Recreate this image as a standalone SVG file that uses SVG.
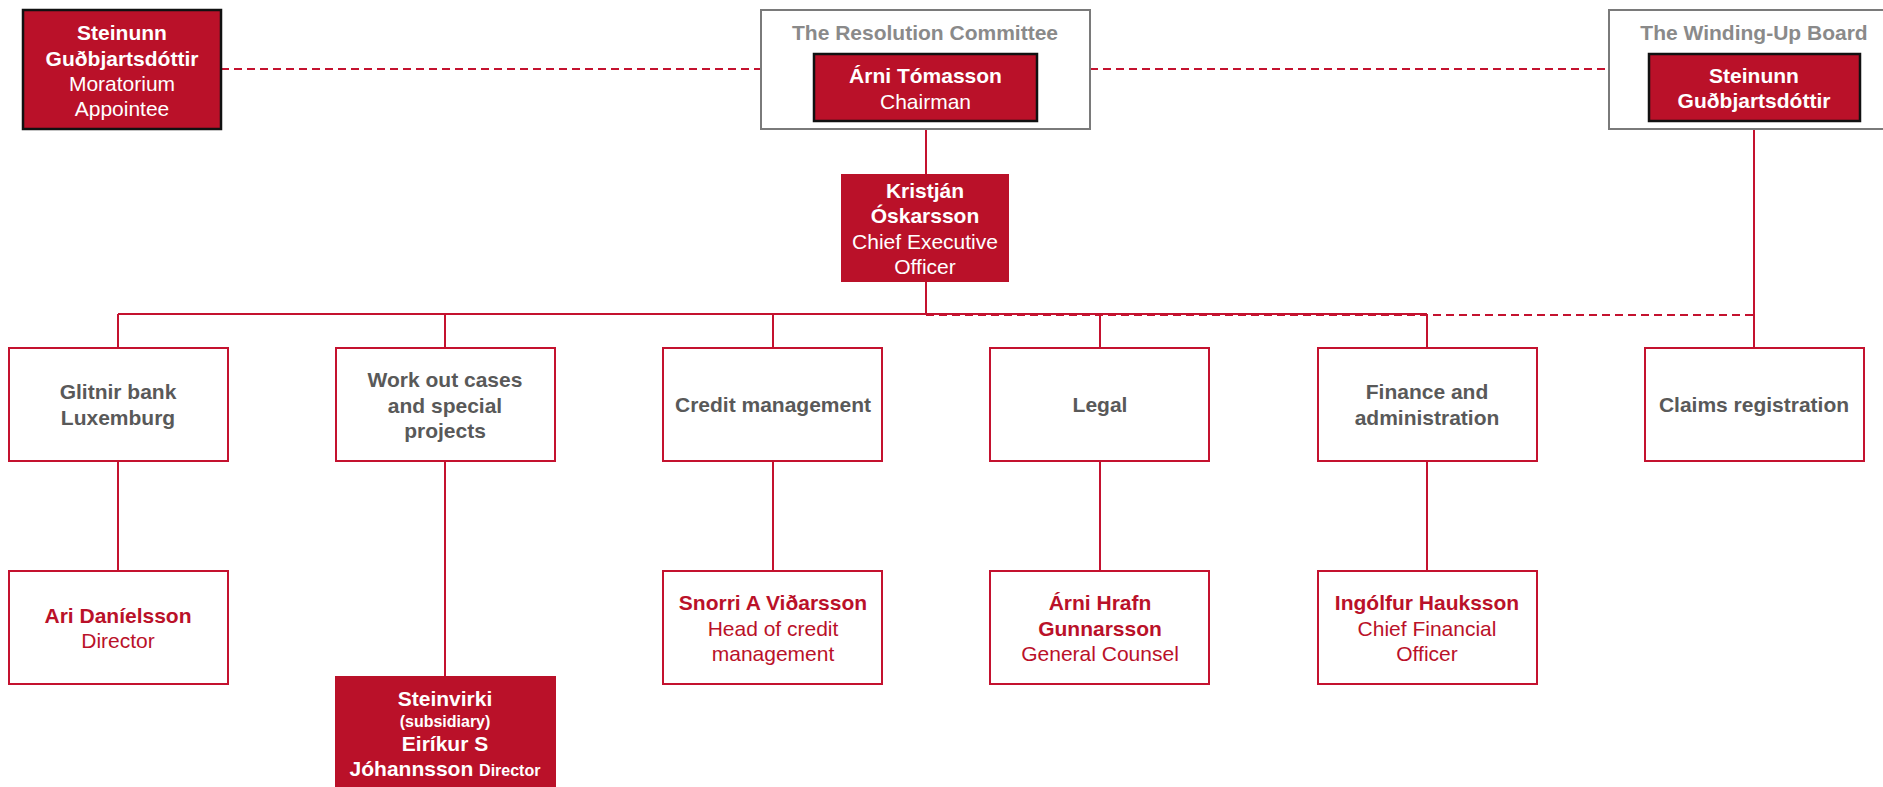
<svg xmlns="http://www.w3.org/2000/svg" width="1883" height="787" viewBox="0 0 1883 787">
<style>
text{font-family:"Liberation Sans",Arial,sans-serif;font-size:21px;text-anchor:middle}
.b{font-weight:bold}
.w{fill:#ffffff}
.r{fill:#BA1129}
.d{fill:#595959;font-weight:bold}
.t{fill:#8a8a8a;font-weight:bold}
.s{font-size:16px;font-weight:bold}
.redbox{fill:#BA1129;stroke:none}
.blk{fill:#BA1129;stroke:#111111;stroke-width:2.5}
.gbox{fill:#ffffff;stroke:#7a7a7a;stroke-width:2}
.obox{fill:#ffffff;stroke:#C4122F;stroke-width:2}
.ln{stroke:#C4122F;stroke-width:2;fill:none}
.dash{stroke:#C4122F;stroke-width:2;fill:none;stroke-dasharray:8 5}
</style>
<g id="connectors">
<line class="dash" x1="221" y1="69" x2="761" y2="69"/>
<line class="dash" x1="1090" y1="69" x2="1609" y2="69"/>
<line class="ln" x1="926" y1="129" x2="926" y2="174"/>
<line class="ln" x1="926" y1="282" x2="926" y2="314"/>
<line class="ln" x1="118" y1="314" x2="1427" y2="314"/>
<line class="dash" x1="926" y1="315" x2="1754" y2="315"/>
<line class="ln" x1="1754" y1="129" x2="1754" y2="348"/>
<line class="ln" x1="118" y1="314" x2="118" y2="348"/>
<line class="ln" x1="445" y1="314" x2="445" y2="348"/>
<line class="ln" x1="773" y1="314" x2="773" y2="348"/>
<line class="ln" x1="1100" y1="314" x2="1100" y2="348"/>
<line class="ln" x1="1427" y1="314" x2="1427" y2="348"/>
<line class="ln" x1="118" y1="462" x2="118" y2="571"/>
<line class="ln" x1="445" y1="462" x2="445" y2="676"/>
<line class="ln" x1="773" y1="462" x2="773" y2="571"/>
<line class="ln" x1="1100" y1="462" x2="1100" y2="571"/>
<line class="ln" x1="1427" y1="462" x2="1427" y2="571"/>
</g>
<g id="moratorium">
<rect class="blk" x="23" y="10" width="198" height="119"/>
<text class="b w" x="122" y="40">Steinunn</text>
<text class="b w" x="122" y="65.5">Guðbjartsdóttir</text>
<text class="w" x="122" y="91">Moratorium</text>
<text class="w" x="122" y="116">Appointee</text>
</g>
<g id="resolution-committee">
<rect class="gbox" x="761" y="10" width="329" height="119"/>
<text class="t" x="925" y="39.5">The Resolution Committee</text>
<rect class="blk" x="814" y="54" width="223" height="67"/>
<text class="b w" x="925.5" y="83">Árni Tómasson</text>
<text class="w" x="925.5" y="108.5">Chairman</text>
</g>
<g id="winding-up-board">
<rect class="gbox" x="1609" y="10" width="280" height="119"/>
<text class="t" x="1754" y="39.5">The Winding-Up Board</text>
<rect class="blk" x="1649" y="54" width="211" height="67"/>
<text class="b w" x="1754" y="83">Steinunn</text>
<text class="b w" x="1754" y="108">Guðbjartsdóttir</text>
</g>
<g id="ceo">
<rect class="redbox" x="841" y="174" width="168" height="108"/>
<text class="b w" x="925" y="197.5">Kristján</text>
<text class="b w" x="925" y="223">Óskarsson</text>
<text class="w" x="925" y="248.5">Chief Executive</text>
<text class="w" x="925" y="274">Officer</text>
</g>
<g id="glitnir">
<rect class="obox" x="9" y="348" width="219" height="113"/>
<text class="d" x="118" y="399">Glitnir bank</text>
<text class="d" x="118" y="425">Luxemburg</text>
</g>
<g id="workout">
<rect class="obox" x="336" y="348" width="219" height="113"/>
<text class="d" x="445" y="387">Work out cases</text>
<text class="d" x="445" y="412.5">and special</text>
<text class="d" x="445" y="438">projects</text>
</g>
<g id="credit">
<rect class="obox" x="663" y="348" width="219" height="113"/>
<text class="d" x="773" y="412">Credit management</text>
</g>
<g id="legal">
<rect class="obox" x="990" y="348" width="219" height="113"/>
<text class="d" x="1100" y="412">Legal</text>
</g>
<g id="finance">
<rect class="obox" x="1318" y="348" width="219" height="113"/>
<text class="d" x="1427" y="399">Finance and</text>
<text class="d" x="1427" y="425">administration</text>
</g>
<g id="claims">
<rect class="obox" x="1645" y="348" width="219" height="113"/>
<text class="d" x="1754" y="412">Claims registration</text>
</g>
<g id="ari">
<rect class="obox" x="9" y="571" width="219" height="113"/>
<text class="b r" x="118" y="623">Ari Daníelsson</text>
<text class="r" x="118" y="648">Director</text>
</g>
<g id="steinvirki">
<rect class="redbox" x="335" y="676" width="221" height="115"/>
<text class="b w" x="445" y="706">Steinvirki</text>
<text class="s w" x="445" y="727">(subsidiary)</text>
<text class="b w" x="445" y="751">Eiríkur S</text>
<text class="b w" x="445" y="776">Jóhannsson <tspan class="s">Director</tspan></text>
</g>
<g id="snorri">
<rect class="obox" x="663" y="571" width="219" height="113"/>
<text class="b r" x="773" y="610">Snorri A Viðarsson</text>
<text class="r" x="773" y="636">Head of credit</text>
<text class="r" x="773" y="661">management</text>
</g>
<g id="arni-hrafn">
<rect class="obox" x="990" y="571" width="219" height="113"/>
<text class="b r" x="1100" y="610">Árni Hrafn</text>
<text class="b r" x="1100" y="636">Gunnarsson</text>
<text class="r" x="1100" y="661">General Counsel</text>
</g>
<g id="ingolfur">
<rect class="obox" x="1318" y="571" width="219" height="113"/>
<text class="b r" x="1427" y="610">Ingólfur Hauksson</text>
<text class="r" x="1427" y="636">Chief Financial</text>
<text class="r" x="1427" y="661">Officer</text>
</g>
</svg>
